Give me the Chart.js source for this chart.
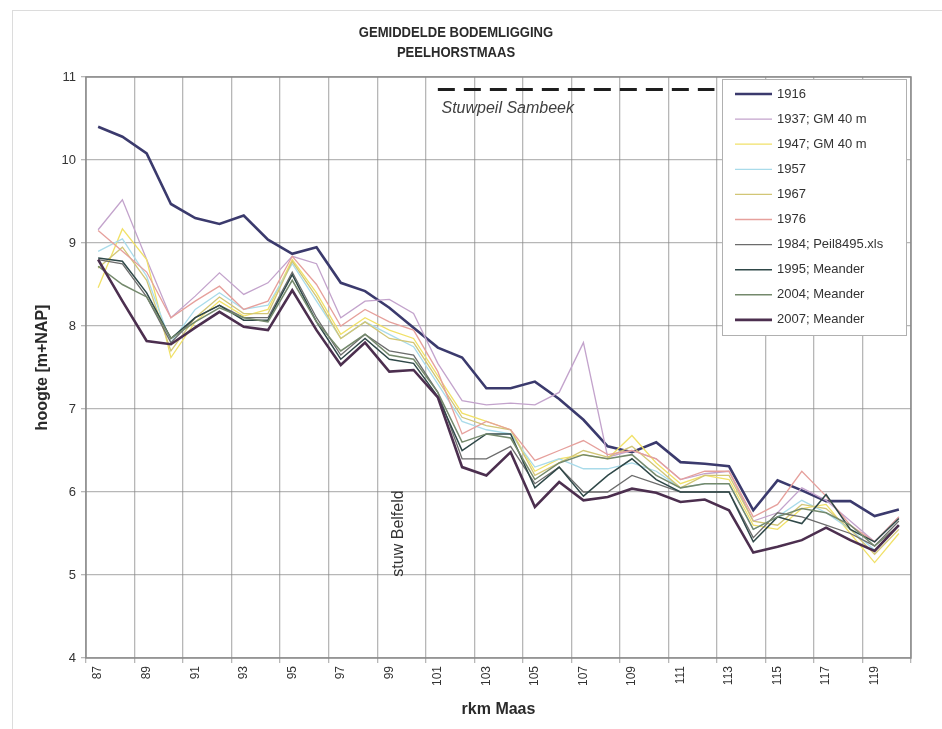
<!DOCTYPE html>
<html>
<head>
<meta charset="utf-8">
<title>Gemiddelde bodemligging Peelhorstmaas</title>
<script src="https://cdn.jsdelivr.net/npm/chart.js@4.4.0/dist/chart.umd.min.js"></script>
<style>
  html, body { margin: 0; padding: 0; background: #fff; }
</style>
</head>
<body>
<canvas id="bodem" width="942" height="729"></canvas>
<script>

// rivierkilometers (rkm Maas)
const rkm = [87, 88, 89, 90, 91, 92, 93, 94, 95, 96, 97, 98, 99, 100, 101, 102, 103,
  104, 105, 106, 107, 108, 109, 110, 111, 112, 113, 114, 115, 116, 117, 118, 119, 120]

// gemiddelde bodemligging per jaar, m+NAP
const h1916 = [10.40, 10.28, 10.08, 9.47, 9.30, 9.23, 9.33, 9.04, 8.87, 8.95, 8.52, 8.42, 8.22, 7.98, 7.74, 7.62, 7.25,
  7.25, 7.33, 7.12, 6.87, 6.55, 6.48, 6.60, 6.36, 6.34, 6.31, 5.78, 6.14, 6.02, 5.89, 5.89, 5.71, 5.79]
const h1937 = [9.16, 9.52, 8.80, 8.10, 8.36, 8.64, 8.38, 8.52, 8.84, 8.75, 8.10, 8.30, 8.32, 8.15, 7.55, 7.10, 7.05,
  7.07, 7.05, 7.20, 7.80, 6.42, 6.50, 6.40, 6.15, 6.22, 6.25, 5.65, 5.75, 6.05, 5.90, 5.65, 5.40, 5.70]
const h1947 = [8.46, 9.17, 8.80, 7.62, 8.05, 8.30, 8.12, 8.20, 8.80, 8.40, 7.90, 8.10, 7.95, 7.85, 7.40, 6.95, 6.85,
  6.75, 6.25, 6.40, 6.45, 6.40, 6.68, 6.35, 6.10, 6.20, 6.15, 5.60, 5.55, 5.80, 5.85, 5.50, 5.15, 5.50]
const h1957 = [8.90, 9.05, 8.60, 7.80, 8.20, 8.40, 8.20, 8.25, 8.75, 8.30, 7.85, 8.05, 7.90, 7.75, 7.30, 6.85, 6.75,
  6.70, 6.30, 6.40, 6.28, 6.28, 6.35, 6.25, 6.05, 6.10, 6.10, 5.55, 5.70, 5.90, 5.75, 5.55, 5.30, 5.60]
const h1967 = [8.70, 8.95, 8.55, 7.70, 8.10, 8.35, 8.15, 8.15, 8.78, 8.35, 7.85, 8.05, 7.85, 7.80, 7.35, 6.90, 6.80,
  6.75, 6.20, 6.35, 6.50, 6.42, 6.55, 6.30, 6.05, 6.20, 6.20, 5.65, 5.60, 5.85, 5.80, 5.55, 5.25, 5.55]
const h1976 = [9.15, 8.90, 8.65, 8.10, 8.30, 8.48, 8.20, 8.30, 8.84, 8.50, 8.00, 8.20, 8.05, 7.95, 7.45, 6.70, 6.85,
  6.75, 6.38, 6.50, 6.62, 6.45, 6.50, 6.40, 6.15, 6.25, 6.25, 5.70, 5.85, 6.25, 5.95, 5.60, 5.40, 5.70]
const h1984 = [8.80, 8.75, 8.35, 7.80, 8.10, 8.25, 8.10, 8.10, 8.65, 8.10, 7.65, 7.90, 7.70, 7.65, 7.20, 6.40, 6.40,
  6.55, 6.10, 6.30, 6.00, 6.00, 6.20, 6.10, 6.00, 6.00, 6.00, 5.45, 5.75, 5.70, 5.60, 5.50, 5.35, 5.65]
const h1995 = [8.82, 8.78, 8.40, 7.85, 8.10, 8.25, 8.07, 8.07, 8.62, 8.05, 7.60, 7.85, 7.60, 7.55, 7.15, 6.50, 6.70,
  6.70, 6.05, 6.30, 5.95, 6.20, 6.40, 6.15, 6.00, 6.00, 6.00, 5.40, 5.70, 5.62, 5.97, 5.55, 5.40, 5.68]
const h2004 = [8.72, 8.50, 8.35, 7.85, 8.05, 8.22, 8.10, 8.05, 8.55, 8.05, 7.70, 7.90, 7.65, 7.60, 7.20, 6.60, 6.70,
  6.65, 6.15, 6.35, 6.45, 6.40, 6.45, 6.20, 6.05, 6.10, 6.10, 5.55, 5.70, 5.80, 5.75, 5.60, 5.35, 5.60]
const h2007 = [8.80, 8.30, 7.82, 7.78, 7.98, 8.17, 7.99, 7.95, 8.43, 7.95, 7.53, 7.80, 7.45, 7.47, 7.14, 6.30, 6.20,
  6.48, 5.82, 6.12, 5.90, 5.94, 6.04, 5.99, 5.88, 5.91, 5.78, 5.27, 5.34, 5.42, 5.57, 5.42, 5.29, 5.60]

const seriesLabels = ['1916', '1937; GM 40 m', '1947; GM 40 m', '1957', '1967', '1976',
  '1984; Peil8495.xls', '1995; Meander', '2004; Meander', '2007; Meander']
const seriesValues = [h1916, h1937, h1947, h1957, h1967, h1976, h1984, h1995, h2004, h2007]
const seriesColors = ['#3b3a6d', '#c3a3cc', '#f1e168', '#a9dbea', '#d2c676', '#e6a09c',
  '#6c6c6c', '#2f4848', '#74896c', '#4c2f4f']
const seriesWidths = [2.6, 1.3, 1.3, 1.3, 1.3, 1.3, 1.3, 1.5, 1.5, 2.6]

// stuwpeil Sambeek (streeplijn) en teksten
const stuwpeilRkm = [101, 112.4]
const stuwpeilNiveau = 10.85
const stuwpeilTekst = { text: 'Stuwpeil Sambeek', rkm: 101.15, h: 10.62 }
const belfeldTekst = { text: 'stuw Belfeld', rkm: 99.4, h: 5.5 }

// assen
const yTicks = [4, 5, 6, 7, 8, 9, 10, 11]
const xGridKm = [86.5, 88.5, 90.5, 92.5, 94.5, 96.5, 98.5, 100.5, 102.5, 104.5, 106.5,
  108.5, 110.5, 112.5, 114.5, 116.5, 118.5, 120.5]
const xLabelKm = [87, 89, 91, 93, 95, 97, 99, 101, 103, 105, 107, 109, 111, 113, 115, 117, 119]

const titleLines = ['GEMIDDELDE BODEMLIGGING', 'PEELHORSTMAAS']
const FONT = "'Liberation Sans', Arial, sans-serif"
const gridColor = 'rgba(135,135,135,0.6)'

const datasets = seriesValues.map((vals, i) => ({
  label: seriesLabels[i],
  data: vals.map((v, j) => ({ x: rkm[j], y: v })),
  borderColor: seriesColors[i],
  backgroundColor: seriesColors[i],
  borderWidth: seriesWidths[i],
  pointRadius: 0,
  tension: 0,
  order: seriesValues.length - i,
  inLegend: true,
}))

datasets.push({
  label: 'Stuwpeil Sambeek',
  data: stuwpeilRkm.map(k => ({ x: k, y: stuwpeilNiveau })),
  borderColor: '#1e1e1e',
  borderWidth: 3,
  borderDash: [17, 9],
  pointRadius: 0,
  order: 0,
  inLegend: false,
})

// kader om de grafiek, titel, teksten
const decorPlugin = {
  id: 'decor',
  beforeDraw(chart) {
    const c = chart.ctx
    c.save()
    c.fillStyle = '#fff'
    c.fillRect(0, 0, chart.width, chart.height)
    c.strokeStyle = '#dcdcdc'
    c.lineWidth = 1
    c.strokeRect(12.5, 10.5, chart.width - 6, chart.height - 4)
    c.restore()
  },
  afterDatasetsDraw(chart) {
    const c = chart.ctx
    const x = chart.scales.x
    const y = chart.scales.y
    c.save()
    c.fillStyle = '#404040'
    c.font = `italic 16px ${FONT}`
    c.textBaseline = 'middle'
    c.fillText(stuwpeilTekst.text, x.getPixelForValue(stuwpeilTekst.rkm), y.getPixelForValue(stuwpeilTekst.h))

    c.translate(x.getPixelForValue(belfeldTekst.rkm), y.getPixelForValue(belfeldTekst.h))
    c.rotate(-Math.PI / 2)
    c.textAlign = 'center'
    c.fillStyle = '#333'
    c.font = `16px ${FONT}`
    c.fillText(belfeldTekst.text, 0, 0)
    c.restore()
  },
  afterDraw(chart) {
    const c = chart.ctx
    const a = chart.chartArea
    c.save()
    c.strokeStyle = '#8a8a8a'
    c.lineWidth = 1.5
    c.strokeRect(a.left, a.top, a.right - a.left, a.bottom - a.top)

    // titel (smal, zoals Arial Narrow)
    c.save()
    c.translate(456, 0)
    c.scale(0.87, 1)
    c.fillStyle = '#2a2a2a'
    c.font = `bold 15px ${FONT}`
    c.textAlign = 'center'
    c.textBaseline = 'middle'
    titleLines.forEach((t, i) => c.fillText(t, 0, 33 + i * 20))
    c.restore()

    // legenda binnen de grafiek
    const items = chart.data.datasets.filter(d => d.inLegend)
    const bx = a.right - 189
    const by = a.top + 2
    const rowH = 25.1
    c.fillStyle = '#fff'
    c.fillRect(bx, by, 184, 256)
    c.strokeStyle = '#b0b0b0'
    c.lineWidth = 1
    c.strokeRect(bx + 0.5, by + 0.5, 184, 256)
    c.textAlign = 'left'
    c.textBaseline = 'middle'
    c.font = `13px ${FONT}`
    items.forEach((d, i) => {
      const ry = by + 15 + i * rowH
      c.strokeStyle = d.borderColor
      c.lineWidth = d.borderWidth
      c.beginPath()
      c.moveTo(bx + 13, ry)
      c.lineTo(bx + 50, ry)
      c.stroke()
      c.fillStyle = '#333'
      c.fillText(d.label, bx + 55, ry)
    })
    c.restore()
  }
}

new Chart(document.getElementById('bodem'), {
  type: 'line',
  data: { datasets },
  options: {
    responsive: false,
    animation: false,
    devicePixelRatio: 1,
    layout: { padding: { left: 20, right: 31, top: 77, bottom: 10 } },
    plugins: {
      legend: { display: false },
      tooltip: { enabled: false },
    },
    scales: {
      x: {
        type: 'linear',
        min: xGridKm[0],
        max: xGridKm[xGridKm.length - 1],
        afterBuildTicks: axis => {
          axis.ticks = xGridKm.concat(xLabelKm).sort((p, q) => p - q).map(v => ({ value: v }))
        },
        afterFit: scale => { scale.height = 61 },
        border: { display: false },
        grid: {
          color: ctx => (ctx.tick && !Number.isInteger(ctx.tick.value)) ? gridColor : 'transparent',
          tickColor: ctx => (ctx.tick && !Number.isInteger(ctx.tick.value)) ? gridColor : 'transparent',
          lineWidth: 1.3,
          tickLength: 5,
        },
        ticks: {
          autoSkip: false,
          minRotation: 90,
          maxRotation: 90,
          padding: 3,
          color: '#333',
          font: { family: FONT, size: 12 },
          callback: v => Number.isInteger(v) ? String(v) : '',
        },
        title: {
          display: true,
          text: 'rkm Maas',
          color: '#2a2a2a',
          font: { family: FONT, size: 16, weight: 'bold' },
          padding: { top: 0, bottom: 0 },
        },
      },
      y: {
        min: yTicks[0],
        max: yTicks[yTicks.length - 1],
        afterFit: scale => { scale.width = 66 },
        afterBuildTicks: axis => { axis.ticks = yTicks.map(v => ({ value: v })) },
        border: { display: false },
        grid: { color: gridColor, lineWidth: 1.3, tickLength: 5 },
        ticks: {
          padding: 5,
          color: '#333',
          font: { family: FONT, size: 13 },
        },
        title: {
          display: true,
          text: 'hoogte [m+NAP]',
          color: '#2a2a2a',
          font: { family: FONT, size: 16, weight: 'bold' },
          padding: { top: 13, bottom: 0 },
        },
      },
    },
  },
  plugins: [decorPlugin],
})
</script>
</body>
</html>
